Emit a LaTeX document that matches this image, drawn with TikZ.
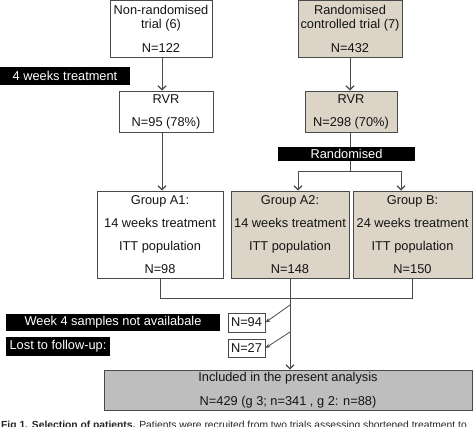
\documentclass[tikz,border=0pt]{standalone}
\usepackage{fontspec}
\setmainfont{Liberation Sans}
\usetikzlibrary{arrows.meta,calc}
\definecolor{beige}{HTML}{DBD4C7}
\definecolor{inclgray}{HTML}{BEBEBE}
\definecolor{linegray}{HTML}{4A4A4A}
\begin{document}
\begin{tikzpicture}[x=1pt,y=-1pt,
  box/.style={draw=linegray, line width=0.8pt, inner sep=0pt, align=center, text=black!92, font=\fontsize{12.8}{23}\selectfont},
  topbox/.style={box, font=\fontsize{12.8}{14}\selectfont},
  blackbox/.style={fill=black, text=white, inner sep=0pt, font=\fontsize{12.8}{15}\selectfont},
  arr/.style={draw=linegray, line width=0.9pt, -{Straight Barb[length=4pt,width=8pt,line width=1.2pt]}},
  ln/.style={draw=linegray, line width=0.9pt},
  smallarr/.style={draw=linegray, line width=0.8pt, -{Stealth[length=5pt,width=4pt]}}]
\useasboundingbox (0,0) rectangle (474,427);

\node[topbox, minimum width=102pt, minimum height=56.5pt] (nonrand) at (161,28.75) {Non-randomised\\trial (6)\\[10pt]N=122};
\node[topbox, fill=beige, minimum width=104pt, minimum height=56.5pt] (rand) at (350,28.75) {Randomised\\controlled trial (7)\\[10pt]N=432};

\node[blackbox, minimum width=130pt, minimum height=18pt] (weeks) at (65,76) {4 weeks treatment};

\node[box, minimum width=94pt, minimum height=41pt] (rvrL) at (166,111.5) {RVR\\N=95 (78\%)};
\node[box, fill=beige, minimum width=92pt, minimum height=41pt] (rvrR) at (351,111.5) {RVR\\N=298 (70\%)};

\node[blackbox, minimum width=137pt, minimum height=14pt] (randd) at (346.5,154) {Randomised};

\node[box, minimum width=126pt, minimum height=87pt] (A1) at (160,234.5) {Group A1:\\14 weeks treatment\\ITT population\\N=98};
\node[box, fill=beige, minimum width=118pt, minimum height=87pt] (A2) at (290,234.5) {Group A2:\\14 weeks treatment\\ITT population\\N=148};
\node[box, fill=beige, minimum width=119pt, minimum height=87pt] (B) at (412.5,234.5) {Group B:\\24 weeks treatment\\ITT population\\N=150};

\node[blackbox, minimum width=214pt, minimum height=17pt] (w4s) at (113,322.5) {Week 4 samples not availabale};
\node[blackbox, minimum width=104pt, minimum height=19pt] (lost) at (58,346.5) {Lost to follow-up:};

\node[box, minimum width=37pt, minimum height=19pt] (n94) at (246.5,322.5) {N=94};
\node[box, minimum width=37pt, minimum height=18pt] (n27) at (246.5,348) {N=27};

\node[box, fill=inclgray, minimum width=368pt, minimum height=40pt, font=\fontsize{12.8}{24}\selectfont] (incl) at (288,390) {Included in the present analysis\\N=429 (g 3; n=341 , g 2: n=88)};

\node[anchor=base west, inner sep=0pt, font=\fontsize{10.3}{12}\selectfont, text=black!85] (cap) at (1,429) {\textbf{Fig 1. Selection of patients.} Patients were recruited from two trials assessing shortened treatment to};

% connectors
\coordinate (kl) at (162,0);
\draw[arr] (nonrand.south -| kl) -- (rvrL.north -| kl);
\draw[arr] (rand.south) -- (rand.south |- rvrR.north);
\draw[arr] (rvrL.south -| kl) -- (A1.north -| kl);
\draw[ln] (rvrR.south -| rand.south) -- (rand.south |- randd.north);

\coordinate (sp) at (350,171);
\coordinate (ka2) at (298,0);
\coordinate (kb) at (401,0);
\draw[ln] (randd.south -| sp) -- (sp);
\draw[arr] (sp) -| (A2.north -| ka2);
\draw[arr] (sp) -| (B.north -| kb);

\coordinate (jn) at (290,298);
\draw[ln] (A1.south) -- (A1.south |- jn) -- (B.south |- jn) -- (B.south);
\draw[ln] (A2.south) -- (jn);
\draw[arr] (jn) -- (jn |- incl.north);

\coordinate (d1) at (290,305);
\coordinate (d2) at (290,332);
\draw[smallarr] (d1) -- (n94.east);
\draw[smallarr] (d2) -- (n27.east);
\end{tikzpicture}
\end{document}
